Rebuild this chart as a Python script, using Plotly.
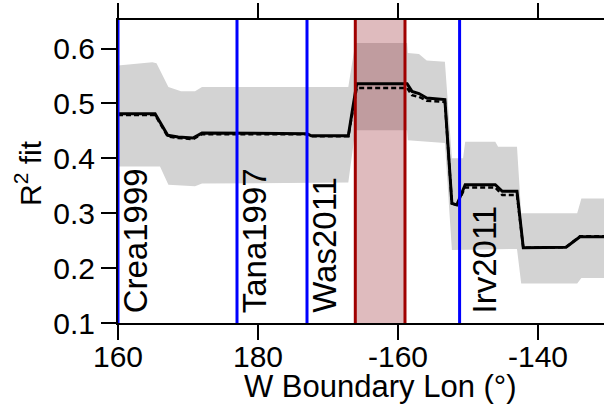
import plotly.graph_objects as go

# ---- data ----
fit_lon = [160, 165.3, 167.1, 168.6, 170.7, 172.0, 187.0, 187.6, 192.9, 194.1, 201.3, 202.0,
           203.0, 204.1, 206.7, 207.7, 208.4, 209.6, 213.9, 214.9, 217.0, 217.9, 224.0, 226.0, 229.5]
fit_best = [0.481, 0.481, 0.442, 0.439, 0.437, 0.446, 0.445, 0.441, 0.441, 0.536, 0.536, 0.522,
            0.518, 0.510, 0.507, 0.318, 0.315, 0.352, 0.352, 0.340, 0.340, 0.237, 0.238, 0.257, 0.257]
fit_alt = [0.479, 0.479, 0.440, 0.437, 0.435, 0.444, 0.444, 0.440, 0.440, 0.528, 0.528, 0.515,
           0.512, 0.505, 0.503, 0.318, 0.315, 0.347, 0.347, 0.333, 0.333, 0.237, 0.238, 0.258, 0.258]

upper_lon = [160, 164.9, 165.5, 167.2, 169.0, 171.0, 172.0, 192.9, 193.9, 201.3, 201.4, 203.0,
             204.1, 206.7, 207.7, 209.3, 209.6, 213.9, 214.3, 217.0, 217.6, 225.6, 226.2, 229.5]
upper_ci = [0.569, 0.575, 0.573, 0.530, 0.522, 0.522, 0.530, 0.530, 0.610, 0.610, 0.592, 0.590,
            0.578, 0.576, 0.400, 0.400, 0.430, 0.430, 0.421, 0.421, 0.300, 0.300, 0.327, 0.327]
lower_lon = [160, 166.0, 167.2, 171.0, 172.0, 192.9, 193.9, 201.3, 201.4, 206.7, 207.7, 217.0,
             217.6, 225.6, 226.2, 229.5]
lower_ci = [0.385, 0.385, 0.352, 0.349, 0.354, 0.356, 0.451, 0.451, 0.433, 0.428, 0.233, 0.235,
            0.172, 0.172, 0.182, 0.182]

best_band = [193.9, 201.0]          # west / east edge of highlighted band
ref_lon = [160, 177, 187, 208.8]
ref_names = ["Crea1999", "Tana1997", "Was2011", "Irv2011"]

x_ticks = [160, 180, 200, 220]
x_ticklabels = ["160", "180", "-160", "-140"]
y_ticks = [0.1, 0.2, 0.3, 0.4, 0.5, 0.6]
y_ticklabels = ["0.1", "0.2", "0.3", "0.4", "0.5", "0.6"]

FONT = "Liberation Sans, Arial, Helvetica, sans-serif"

fig = go.Figure()

# confidence band
fig.add_trace(go.Scatter(
    x=upper_lon + lower_lon[::-1], y=upper_ci + lower_ci[::-1],
    fill="toself", fillcolor="#d3d3d3", line=dict(width=0), mode="lines",
    hoverinfo="skip", showlegend=False))

# highlighted band (translucent red)
fig.add_trace(go.Scatter(
    x=[best_band[0], best_band[1], best_band[1], best_band[0], best_band[0]],
    y=[0.1, 0.1, 0.652, 0.652, 0.1],
    fill="toself", fillcolor="rgba(150,30,40,0.30)", line=dict(width=0), mode="lines",
    hoverinfo="skip", showlegend=False))

fig.add_trace(go.Scatter(x=fit_lon, y=fit_best, mode="lines",
                         line=dict(color="black", width=3), showlegend=False))
fig.add_trace(go.Scatter(x=fit_lon, y=fit_alt, mode="lines",
                         line=dict(color="black", width=2.5, dash="5px,3px"), showlegend=False))

shapes = []
for xv in ref_lon:
    shapes.append(dict(type="line", xref="x", yref="paper", x0=xv, x1=xv, y0=0, y1=1,
                       line=dict(color="#0000ff", width=3), layer="above"))
for xv in best_band:
    shapes.append(dict(type="line", xref="x", yref="paper", x0=xv, x1=xv, y0=0, y1=1,
                       line=dict(color="#a00000", width=3), layer="above"))

label_shift = [-3, -3, -3, 4]
annotations = []
for xv, name, sh in zip(ref_lon, ref_names, label_shift):
    annotations.append(dict(x=xv, y=0.114, xref="x", yref="y", text=name, showarrow=False,
                            textangle=-90, xanchor="left", yanchor="bottom", xshift=sh,
                            font=dict(family=FONT, size=33, color="black")))

annotations.append(dict(x=(380 - 118) / 486, y=-0.21, xref="paper", yref="paper",
                        text="W Boundary Lon (°)", showarrow=False, xanchor="center",
                        yanchor="middle", font=dict(family=FONT, size=31, color="black")))
annotations.append(dict(x=(28 - 118) / 486, y=0.495, xref="paper", yref="paper",
                        text="R<sup>2</sup> fit", showarrow=False, textangle=-90,
                        xanchor="center", yanchor="middle",
                        font=dict(family=FONT, size=30, color="black")))

fig.update_layout(
    width=604, height=405,
    margin=dict(l=118, r=0, t=20, b=82),
    paper_bgcolor="white", plot_bgcolor="white",
    font=dict(family=FONT, size=30, color="black"),
    shapes=shapes, annotations=annotations,
    xaxis=dict(range=[160, 229.43], tickvals=x_ticks, ticktext=x_ticklabels,
               showgrid=False, zeroline=False, showline=True, linecolor="black", linewidth=2,
               mirror="ticks", ticks="outside", ticklen=15, tickwidth=1.5, tickcolor="black",
               ticklabelstandoff=-9,
               tickfont=dict(family=FONT, size=30)),
    yaxis=dict(range=[0.1, 0.652], tickvals=y_ticks, ticktext=y_ticklabels,
               showgrid=False, zeroline=False, showline=True, linecolor="black", linewidth=2,
               ticks="outside", ticklen=15, tickwidth=1.5, tickcolor="black",
               tickfont=dict(family=FONT, size=30)),
)

fig.write_html("out.html")
